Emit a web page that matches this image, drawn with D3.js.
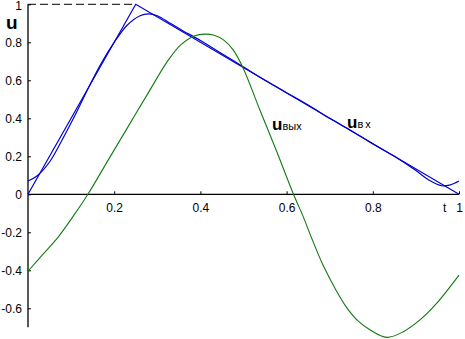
<!DOCTYPE html>
<html>
<head>
<meta charset="utf-8">
<script src="https://cdn.jsdelivr.net/npm/d3@7"></script>
<style>
  html, body { margin: 0; padding: 0; background: #fff; }
  svg { display: block; font-family: Arial, "Liberation Sans", sans-serif; }
</style>
</head>
<body>
<svg id="chart" width="465" height="339"></svg>
<script>
// ---- data ----
const inputT = [0, 0.25, 1];
const inputV = [0, 1, 0];

const smoothT = [0, 0.02, 0.05, 0.08, 0.11, 0.14, 0.17, 0.20, 0.23, 0.26, 0.28, 0.30, 0.33, 0.36, 0.40, 0.45, 0.50, 0.55, 0.60, 0.65, 0.70, 0.75, 0.80, 0.85, 0.90, 0.93, 0.96, 0.98, 1.0];
const smoothV = [0.07, 0.095, 0.17, 0.29, 0.42, 0.56, 0.69, 0.80, 0.89, 0.94, 0.95, 0.94, 0.90, 0.86, 0.81, 0.74, 0.67, 0.60, 0.535, 0.47, 0.40, 0.335, 0.265, 0.20, 0.125, 0.075, 0.045, 0.05, 0.07];

const outT = [0, 0.035, 0.07, 0.105, 0.139, 0.186, 0.232, 0.278, 0.325, 0.355, 0.387, 0.41, 0.43, 0.455, 0.476, 0.499, 0.538, 0.578, 0.616, 0.639, 0.658, 0.685, 0.716, 0.739, 0.765, 0.794, 0.832, 0.871, 0.91, 0.948, 1.0];
const outV = [-0.405, -0.315, -0.225, -0.115, 0, 0.18, 0.355, 0.53, 0.705, 0.788, 0.835, 0.843, 0.838, 0.81, 0.76, 0.665, 0.444, 0.22, 0, -0.12, -0.23, -0.375, -0.51, -0.595, -0.665, -0.714, -0.753, -0.723, -0.66, -0.574, -0.425];

const xTicks = [0.2, 0.4, 0.6, 0.8, 1];
const yTicks = [1, 0.8, 0.6, 0.4, 0.2, 0, -0.2, -0.4, -0.6];

// ---- scales ----
const svg = d3.select("#chart");
const x = d3.scaleLinear().domain([0, 1]).range([28, 459]);
const y = d3.scaleLinear().domain([-0.7, 1]).range([327.3, 4.3]);
const fmt = d => String(+d.toFixed(1));

// dashed guide at top
svg.append("line")
  .attr("x1", x(0)).attr("x2", x(0.25))
  .attr("y1", y(1)).attr("y2", y(1))
  .attr("stroke", "#000").attr("stroke-width", 1)
  .attr("stroke-dasharray", "8,4");

// y axis
const yAxis = svg.append("g")
  .attr("transform", `translate(${x(0)},0)`)
  .call(d3.axisLeft(y).tickValues(yTicks).tickFormat(fmt).tickSizeInner(-3).tickSizeOuter(0).tickPadding(6));
yAxis.select(".domain").remove();
yAxis.append("line").attr("x1", 0).attr("x2", 0).attr("y1", y(1)).attr("y2", y(-0.7))
  .attr("stroke", "#000").attr("stroke-width", 1.3);
yAxis.selectAll("text").attr("font-size", 12).attr("fill", "#000").attr("font-family", "Arial, 'Liberation Sans', sans-serif");
yAxis.selectAll(".tick").filter(d => d === 1).select("text").attr("dy", "0.32em").attr("y", 1.5);
yAxis.selectAll(".tick line").attr("stroke", "#000");

// x axis
const xAxis = svg.append("g")
  .attr("transform", `translate(0,${y(0)})`)
  .call(d3.axisBottom(x).tickValues(xTicks).tickFormat(fmt).tickSizeInner(-3).tickSizeOuter(0).tickPadding(9));
xAxis.select(".domain").remove();
xAxis.append("line").attr("x1", x(0)).attr("x2", x(1)).attr("y1", 0).attr("y2", 0)
  .attr("stroke", "#000").attr("stroke-width", 1.3);
xAxis.selectAll("text").attr("font-size", 12).attr("fill", "#000").attr("font-family", "Arial, 'Liberation Sans', sans-serif");
xAxis.selectAll(".tick line").attr("stroke", "#000");

// axis names
svg.append("text").attr("x", 6).attr("y", 29).attr("font-size", 19).attr("font-weight", "bold").text("u");
svg.append("text").attr("x", x(0.967)).attr("y", y(0) + 17.5).attr("text-anchor", "middle").attr("font-size", 12).text("t");

// lines
const line = d3.line().x(d => x(d[0])).y(d => y(d[1]));
const smoothLine = d3.line().x(d => x(d[0])).y(d => y(d[1])).curve(d3.curveCatmullRom);

svg.append("path").datum(inputT.map((t, i) => [t, inputV[i]]))
  .attr("d", line).attr("fill", "none").attr("stroke", "#0000d0").attr("stroke-width", 1.2);
svg.append("path").datum(smoothT.map((t, i) => [t, smoothV[i]]))
  .attr("d", smoothLine).attr("fill", "none").attr("stroke", "#0000d0").attr("stroke-width", 1.2);
svg.append("path").datum(outT.map((t, i) => [t, outV[i]]))
  .attr("d", smoothLine).attr("fill", "none").attr("stroke", "#117a11").attr("stroke-width", 1.1);

// curve labels
const l1 = svg.append("text").attr("x", 272).attr("y", 130).attr("fill", "#000");
l1.append("tspan").attr("font-size", 17).attr("font-weight", "bold").text("u");
l1.append("tspan").attr("font-size", 11).text("вых");
const l2 = svg.append("text").attr("x", 347).attr("y", 128).attr("fill", "#000");
l2.append("tspan").attr("font-size", 17).attr("font-weight", "bold").text("u");
l2.append("tspan").attr("font-size", 11).attr("letter-spacing", 2).text("вх");
</script>
</body>
</html>
